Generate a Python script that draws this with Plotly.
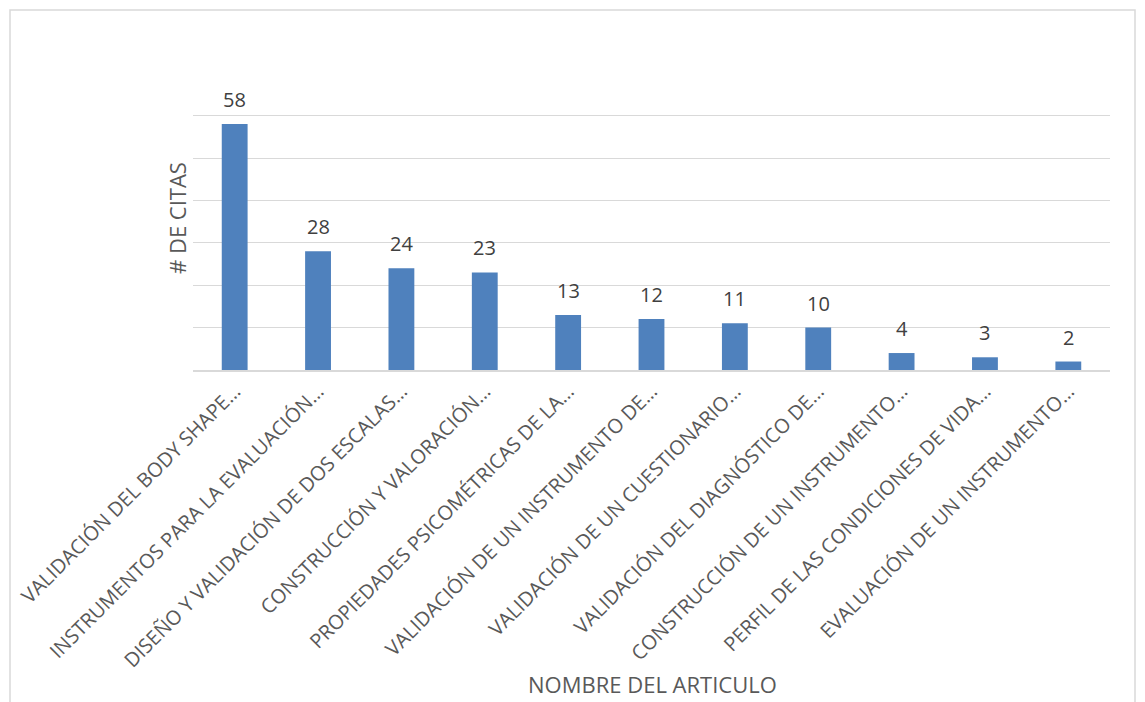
import plotly.graph_objects as go

categories = [
    "VALIDACIÓN DEL BODY SHAPE…",
    "INSTRUMENTOS PARA LA EVALUACIÓN…",
    "DISEÑO Y VALIDACIÓN DE DOS ESCALAS…",
    "CONSTRUCCIÓN Y VALORACIÓN…",
    "PROPIEDADES PSICOMÉTRICAS DE LA…",
    "VALIDACIÓN DE UN INSTRUMENTO DE…",
    "VALIDACIÓN DE UN CUESTIONARIO…",
    "VALIDACIÓN DEL DIAGNÓSTICO DE…",
    "CONSTRUCCIÓN DE UN INSTRUMENTO…",
    "PERFIL DE LAS CONDICIONES DE VIDA…",
    "EVALUACIÓN DE UN INSTRUMENTO…",
]
citas = [58, 28, 24, 23, 13, 12, 11, 10, 4, 3, 2]

FONT = "Open Sans"
OFF = 8  # page body margin
W, H = 1145 - 2 * OFF, 702 - OFF
# target plot area in page pixels: x 193..1110, y 73..370
L, T = 193 - OFF, 73 - OFF
R = (W + OFF) - 1110
B = (H + OFF) - 370
pw, ph = W - L - R, H - T - B


def px(x):
    return (x - OFF - L) / pw


def py(y):
    return (H - B - (y - OFF)) / ph


fig = go.Figure(go.Bar(
    x=categories, y=citas,
    marker=dict(color="#4F81BD", line=dict(width=0)),
    width=0.31,
))

annotations = [
    dict(x=c, y=v, text=str(v), showarrow=False, xref="x", yref="y",
         yanchor="bottom", yshift=9,
         font=dict(family=FONT, size=20, color="#404040"))
    for c, v in zip(categories, citas)
]
annotations.append(dict(text="# DE CITAS", x=px(177), y=py(218),
                        xref="paper", yref="paper", textangle=-90, showarrow=False,
                        xanchor="center", yanchor="middle",
                        font=dict(family=FONT, size=22, color="#595959")))
annotations.append(dict(text="NOMBRE DEL ARTICULO", x=px(652), y=py(684),
                        xref="paper", yref="paper", showarrow=False,
                        xanchor="center", yanchor="middle",
                        font=dict(family=FONT, size=22, color="#595959")))

fig.update_layout(
    width=W, height=H,
    margin=dict(l=L, r=R, t=T, b=B, autoexpand=False),
    paper_bgcolor="white", plot_bgcolor="white",
    showlegend=False,
    annotations=annotations,
    xaxis=dict(tickangle=-45, tickfont=dict(family=FONT, size=20, color="#595959"),
               showline=True, linecolor="#D9D9D9", linewidth=1.5, ticks=""),
    yaxis=dict(range=[0, 70.05], dtick=10, showticklabels=False, gridcolor="#D9D9D9",
               gridwidth=1.2, zeroline=False, showline=False),
    shapes=[dict(type="rect", xref="paper", yref="paper",
                 x0=px(10), x1=px(1135),
                 y0=py(740), y1=py(10),
                 line=dict(color="#D9D9D9", width=1.5), fillcolor="rgba(0,0,0,0)")],
)

fig.write_html("out.html")
